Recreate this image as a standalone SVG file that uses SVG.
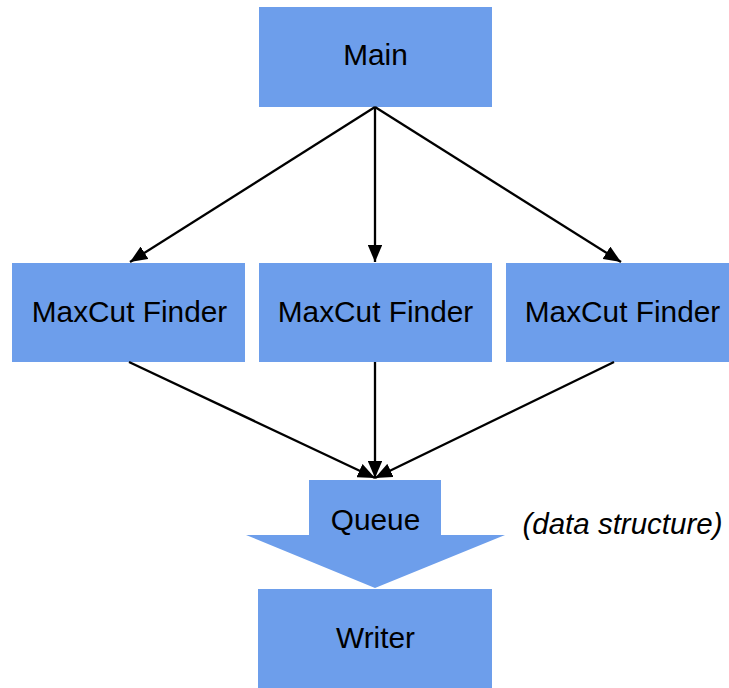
<svg xmlns="http://www.w3.org/2000/svg" width="729" height="688" viewBox="0 0 729 688">
<style>
.box{fill:#6d9eeb}
.lbl{font-family:"Liberation Sans",Arial,sans-serif;font-size:29.8px;fill:#000;text-anchor:middle}
.note{font-family:"Liberation Sans",Arial,sans-serif;font-size:29.5px;font-style:italic;fill:#000;text-anchor:middle}
.edge{stroke:#000;stroke-width:2.3;fill:none;marker-end:url(#ah)}
</style>
<defs>
<marker id="ah" markerWidth="7.5" markerHeight="6.4" refX="7.5" refY="3.2" orient="auto" markerUnits="strokeWidth">
<path d="M0,0 L7.5,3.2 L0,6.4 Z" fill="#000"/>
</marker>
</defs>
<rect width="729" height="688" fill="#fff"/>
<g id="main"><rect class="box" x="259" y="7" width="233" height="100"/><text class="lbl" x="375.5" y="65">Main</text></g>
<g id="finder1"><rect class="box" x="12" y="263" width="233" height="99"/><text class="lbl" x="129.5" y="322">MaxCut Finder</text></g>
<g id="finder2"><rect class="box" x="259" y="263" width="233" height="99"/><text class="lbl" x="375.5" y="322">MaxCut Finder</text></g>
<g id="finder3"><rect class="box" x="506" y="263" width="233" height="99"/><text class="lbl" x="622.5" y="322">MaxCut Finder</text></g>
<g id="queue"><path class="box" d="M309,480 L441,480 L441,535 L505,535 L375,588 L246,535 L309,535 Z"/><text class="lbl" x="375.5" y="530">Queue</text></g>
<g id="note"><text class="note" x="622.5" y="534">(data structure)</text></g>
<g id="writer"><rect class="box" x="258" y="589" width="234" height="110"/><text class="lbl" x="375.5" y="648">Writer</text></g>
<g id="connectors">
<line class="edge" x1="375" y1="107" x2="130" y2="262"/>
<line class="edge" x1="375" y1="107" x2="375" y2="262"/>
<line class="edge" x1="375" y1="107" x2="621" y2="262"/>
<line class="edge" x1="129" y1="362" x2="375" y2="478"/>
<line class="edge" x1="375" y1="362" x2="375" y2="478"/>
<line class="edge" x1="614" y1="362" x2="375" y2="478"/>
</g>
</svg>
